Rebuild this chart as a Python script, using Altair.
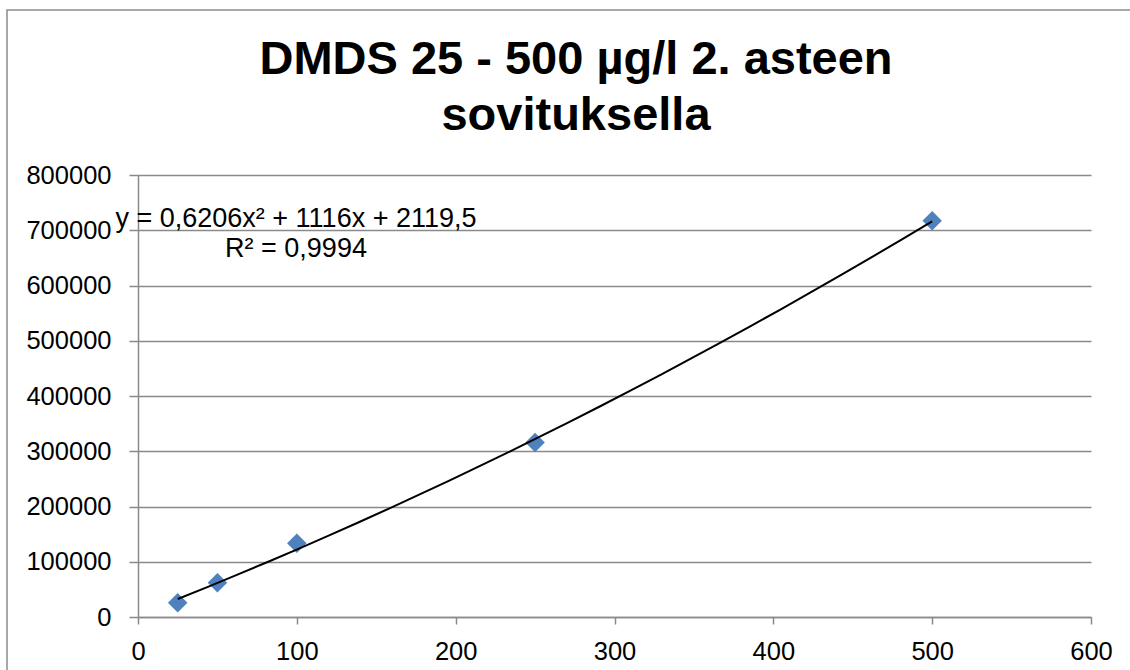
import altair as alt
import pandas as pd

# Data
conc = [25, 50, 100, 250, 500]
area = [25900, 62100, 133400, 316000, 717300]

title_lines = ["DMDS 25 - 500 µg/l 2. asteen", "sovituksella"]
eq_lines = ["y = 0,6206x² + 1116x + 2119,5", "R² = 0,9994"]

df = pd.DataFrame({"x": conc, "y": area})

FONT = "Liberation Sans"
GRID = "#8a8a8a"

xs = alt.Scale(domain=[0, 600], nice=False, zero=True)
ys = alt.Scale(domain=[0, 800000], nice=False)

base = alt.Chart(df)
one = alt.Data(values=[{"a": 1}])

border = alt.Chart(one).mark_rect(
    fill=None, stroke="#8c8c8c", strokeWidth=1.5, clip=False
).encode(
    x=alt.value(-131), y=alt.value(-165), x2=alt.value(1100), y2=alt.value(600)
)

trend = base.transform_regression(
    "x", "y", method="poly", order=2, extent=[25, 500]
).mark_line(color="black", strokeWidth=2).encode(
    x=alt.X("x:Q", scale=xs,
            axis=alt.Axis(values=[0, 100, 200, 300, 400, 500, 600], title=None,
                          grid=False, tickSize=7, labelPadding=15, labelFlush=False)),
    y=alt.Y("y:Q", scale=ys,
            axis=alt.Axis(values=[0, 100000, 200000, 300000, 400000, 500000, 600000, 700000, 800000],
                          title=None, grid=True, tickSize=9, labelPadding=18,
                          labelFlush=False, format="d")),
)

points = base.mark_point(shape="diamond", filled=True, size=380, color="#4F81BD",
                         opacity=1).encode(
    x=alt.X("x:Q", scale=xs),
    y=alt.Y("y:Q", scale=ys),
)

eq = alt.Chart(one).mark_text(
    text=eq_lines, font=FONT, fontSize=27, align="center", baseline="alphabetic",
    lineHeight=30, color="black", clip=False
).encode(x=alt.value(158), y=alt.value(52))

title = alt.Chart(one).mark_text(
    text=title_lines, font=FONT, fontSize=47, fontWeight="bold", align="center",
    baseline="alphabetic", lineHeight=56, color="black", clip=False
).encode(x=alt.value(438), y=alt.value(-101))

chart = alt.layer(border, points, trend, eq, title).properties(
    width=953, height=442,
    autosize=alt.AutoSizeParams(type="none"),
    padding={"left": 138, "top": 175, "right": 39, "bottom": 53},
).configure(
    font=FONT,
).configure_view(stroke=None).configure_axis(
    labelFont=FONT, labelFontSize=25.5, labelColor="black",
    domainColor=GRID, domainWidth=1.5, tickColor=GRID, tickWidth=1.5,
    gridColor=GRID, gridWidth=1.5,
)

chart.save("out.html", embed_options={"renderer": "svg", "actions": False})
